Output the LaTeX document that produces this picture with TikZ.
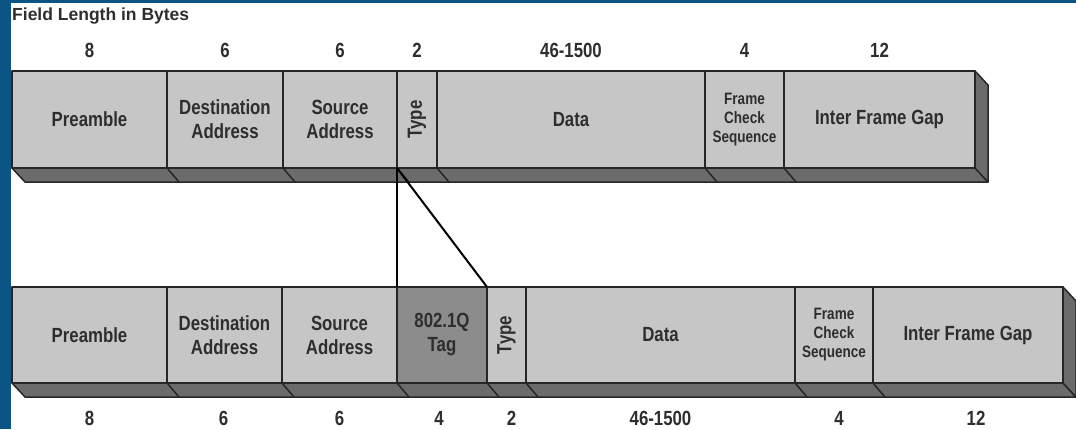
\documentclass[tikz,border=0pt]{standalone}
\usepackage{fontspec}
\setmainfont{Liberation Sans}[FakeStretch=0.82]
\newfontfamily\ttlfam{Liberation Sans}
\usetikzlibrary{calc}
\definecolor{bgblue}{HTML}{0B5585}
\definecolor{facec}{HTML}{C6C6C6}
\definecolor{shadec}{HTML}{6B6B6B}
\definecolor{tagc}{HTML}{8C8C8C}
\definecolor{edgec}{HTML}{262626}
\definecolor{txtc}{HTML}{2E2E2E}
\newcommand\fldfont{\fontsize{20.5}{24}\selectfont\bfseries}
\newcommand\smfont{\fontsize{16.5}{19}\selectfont\bfseries}
\newcommand\ttlfont{\ttlfam\fontsize{17.5}{20}\selectfont\bfseries}
\begin{document}
\begin{tikzpicture}[x=1pt,y=-1pt,
  edge/.style={draw=edgec, line width=1.5pt, line join=round},
  field/.style={edge, fill=facec, inner sep=0pt, outer sep=0pt, anchor=north west,
    text=txtc, align=center, font=\fldfont},
  toprow/.style={field, minimum height=97pt},
  botrow/.style={field, minimum height=96pt},
  shadowst/.style={edge, fill=shadec},
  num/.style={text=txtc, font=\fldfont, inner sep=0pt},
  conn/.style={draw=black, line width=2pt}]
\useasboundingbox (0,0) rectangle (1076,429);
\clip (0,0) rectangle (1076,429);
\fill[white] (0,0) rectangle (1076,429);
\fill[bgblue] (0,0) rectangle (11,429);
\fill[bgblue] (0,0) rectangle (1076,3);

\node[anchor=west, font=\ttlfont, text=txtc, inner sep=0pt] (title) at (12,16) {Field Length in Bytes};

% top frame
\node[toprow, minimum width=155pt] (t1) at (12,71) {Preamble};
\node[toprow, minimum width=116pt] (t2) at (167,71) {Destination\\Address};
\node[toprow, minimum width=114pt] (t3) at (283,71) {Source\\Address};
\node[toprow, minimum width=40pt] (t4) at (397,71) {\rotatebox{90}{Type}};
\node[toprow, minimum width=268pt] (t5) at (437,71) {Data};
\node[toprow, minimum width=79pt, font=\smfont] (t6) at (705,71) {Frame\\Check\\Sequence};
\node[toprow, minimum width=191pt] (t7) at (784,71) {Inter Frame Gap};

\filldraw[shadowst] (t1.south west) -- (t7.south east) -- ++(13,14) -- ($(t1.south west)+(13,14)$) -- cycle;
\filldraw[shadowst] (t7.north east) -- ++(13,14) -- ($(t7.south east)+(13,14)$) -- (t7.south east) -- cycle;
\foreach \n in {t2,t3,t4,t5,t6,t7} \draw[edge] (\n.south west) -- ++(12,14);

% bottom frame
\node[botrow, minimum width=155pt] (b1) at (12,287) {Preamble};
\node[botrow, minimum width=115pt] (b2) at (167,287) {Destination\\Address};
\node[botrow, minimum width=115pt] (b3) at (282,287) {Source\\Address};
\node[botrow, minimum width=90pt, fill=tagc] (b4) at (397,287) {802.1Q\\Tag};
\node[botrow, minimum width=39pt] (b5) at (487,287) {\rotatebox{90}{Type}};
\node[botrow, minimum width=269pt] (b6) at (526,287) {Data};
\node[botrow, minimum width=78pt, font=\smfont] (b7) at (795,287) {Frame\\Check\\Sequence};
\node[botrow, minimum width=190pt] (b8) at (873,287) {Inter Frame Gap};

\filldraw[shadowst] (b1.south west) -- (b8.south east) -- ++(13,14) -- ($(b1.south west)+(13,14)$) -- cycle;
\filldraw[shadowst] (b8.north east) -- ++(13,14) -- ($(b8.south east)+(13,14)$) -- (b8.south east) -- cycle;
\foreach \n in {b2,b3,b4,b5,b6,b7,b8} \draw[edge] (\n.south west) -- ++(12,14);

% connectors
\draw[conn] (t4.south west) -- (b4.north west);
\draw[conn] (t4.south west) -- (b4.north east);

% length labels
\coordinate (ty) at (0,50);
\coordinate (by) at (0,418);
\foreach \n/\t in {t1/8,t2/6,t3/6,t4/2,t5/46-1500,t6/4,t7/12}
  \node[num] (l\n) at (\n |- ty) {\t};
\foreach \n/\t/\s in {b1/8/0,b2/6/-1,b3/6/0,b4/4/-3,b5/2/5,b6/46-1500/0,b7/4/5,b8/12/8}
  \node[num, xshift=\s pt] (l\n) at (\n |- by) {\t};
\end{tikzpicture}
\end{document}
